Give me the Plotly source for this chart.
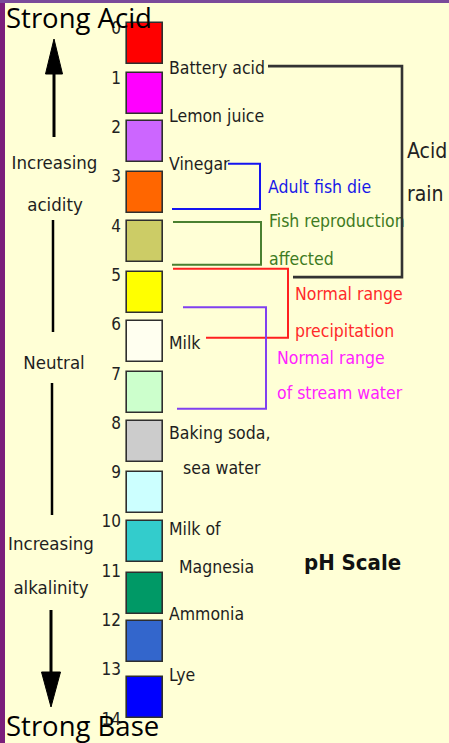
import plotly.graph_objects as go

# ---------------- data ----------------
ph_ticks = list(range(15))
tick_labels = [str(v) for v in ph_ticks]

box_start = [-0.1, 0.92, 1.9, 2.93, 3.92, 4.96, 5.95, 6.98, 7.98, 9.01, 10.0, 11.06, 12.03, 13.17]
box_size = [0.83] * 14
box_colors = ["#FF0000", "#FF00FF", "#CC66FF", "#FF6600", "#CCCC66", "#FFFF00", "#FFFFF0",
              "#CCFFCC", "#CCCCCC", "#CCFFFF", "#33CCCC", "#009966", "#3366CC", "#0000FF"]

substances = ["Battery acid", "Lemon juice", "Vinegar", "Milk", "Baking soda,", "sea water",
              "Milk of", "Magnesia", "Ammonia", "Lye"]
substance_ph = [0.80, 1.77, 2.74, 6.37, 8.20, 8.91, 10.15, 10.92, 11.87, 13.11]

effect_names = ["Acid rain", "Adult fish die", "Fish reproduction affected",
                "Normal range precipitation", "Normal range of stream water"]
effect_ph_from = [0.78, 2.76, 3.94, 4.89, 5.67]
effect_ph_to = [5.06, 3.68, 4.81, 6.29, 7.73]

# ---------------- styling ----------------
BG = "#FFFFD6"
NARROW = "Liberation Sans Narrow, Arial Narrow, DejaVu Sans Condensed, sans-serif"
WIDE = "Open Sans, sans-serif"
A0, S = 27.7, 49.3          # pixel offset / pixels per pH unit (axis calibration)
TEXT_DY = 2.5 / S           # small downward nudge so text sits where the glyphs appear


def ph(px):
    return (px - A0) / S


def tpos(vals):
    return [v + TEXT_DY for v in vals]


fig = go.Figure()

# colour boxes
fig.add_trace(go.Bar(
    x=[145] * len(box_start), y=box_size, base=box_start, width=36,
    marker=dict(color=box_colors, line=dict(color="#2E2E2E", width=1.6)),
    hoverinfo="skip"))

# pH numbers
fig.add_trace(go.Scatter(
    x=[121] * len(ph_ticks), y=tpos(ph_ticks), text=tick_labels, mode="text",
    textposition="middle left", textfont=dict(family=NARROW, size=17, color="#222222"),
    hoverinfo="skip"))

# substance labels
label_x = [169, 169, 169, 169, 169, 183, 169, 179, 169, 169]
fig.add_trace(go.Scatter(
    x=label_x, y=tpos(substance_ph), text=substances, mode="text",
    textposition="middle right", textfont=dict(family=NARROW, size=17.5, color="#1E1E1E"),
    hoverinfo="skip"))

# effect brackets
eff_style = [
    # line colour, text colour, x start, x vertical, x end, label lines, label x, label pH, width, font
    ("#333333", "#222222", 268, 402, 293, ["Acid", "rain"], 407, [2.48, 3.35], 2.6, 21),
    ("#1414F0", "#1818E8", 228, 260, 172, ["Adult fish die"], 268, [3.21], 2.0, 17.5),
    ("#4A8030", "#3E7B22", 173, 261, 172, ["Fish reproduction", "affected"], 269, [3.90, 4.67], 2.0, 17.5),
    ("#FF2020", "#FF2A2A", 173, 288, 206, ["Normal range", "precipitation"], 295, [5.38, 6.13], 2.0, 17.5),
    ("#8040F0", "#FF22FF", 183, 266, 177, ["Normal range", "of stream water"], 277, [6.68, 7.39], 2.0, 17.5),
]
for (lc, tc, xs, xv, xe, lines, lx, lph, lw, fs) in eff_style:
    fig.add_trace(go.Scatter(
        x=[lx] * len(lines), y=tpos(lph), text=lines, mode="text", textposition="middle right",
        textfont=dict(family=NARROW, size=fs, color=tc), hoverinfo="skip"))
for i, (lc, tc, xs, xv, xe, lines, lx, lph, lw, fs) in enumerate(eff_style):
    fig.add_trace(go.Scatter(
        x=[xs, xv, xv, xe], y=[effect_ph_from[i]] * 2 + [effect_ph_to[i]] * 2,
        mode="lines", line=dict(color=lc, width=lw), name=effect_names[i], hoverinfo="skip"))

# left side texts
fig.add_trace(go.Scatter(
    x=[54.5, 55, 54, 51, 51],
    y=tpos([ph(162), ph(204), ph(362), ph(543), ph(587)]),
    text=["Increasing", "acidity", "Neutral", "Increasing", "alkalinity"], mode="text",
    textposition="middle center", textfont=dict(family=NARROW, size=18.5, color="#1E1E1E"),
    hoverinfo="skip"))

# pH Scale title
fig.add_trace(go.Scatter(
    x=[304], y=tpos([ph(562)]), text=["<b>pH Scale</b>"], mode="text", textposition="middle right",
    textfont=dict(family=NARROW, size=22, color="#111111"), hoverinfo="skip"))

# Strong Acid / Strong Base
fig.add_trace(go.Scatter(
    x=[6, 6], y=[ph(21), ph(729)], text=["Strong Acid", "Strong Base"], mode="text",
    textposition="middle right", textfont=dict(family=WIDE, size=27.5, color="#000000"),
    hoverinfo="skip"))

shapes = [
    # up arrow
    dict(type="line", x0=54, x1=54, y0=ph(70), y1=ph(137), line=dict(color="black", width=3)),
    dict(type="path", path=f"M 45.5,{ph(74)} L 54,{ph(39)} L 62.5,{ph(74)} Z",
         fillcolor="black", line=dict(color="black", width=1)),
    # middle bars
    dict(type="line", x0=53, x1=53, y0=ph(220), y1=ph(332), line=dict(color="black", width=2.5)),
    dict(type="line", x0=52, x1=52, y0=ph(383), y1=ph(515), line=dict(color="black", width=2.5)),
    # down arrow
    dict(type="line", x0=51, x1=51, y0=ph(610), y1=ph(676), line=dict(color="black", width=3)),
    dict(type="path", path=f"M 41.5,{ph(672)} L 51,{ph(707)} L 60.5,{ph(672)} Z",
         fillcolor="black", line=dict(color="black", width=1)),
    # borders
    dict(type="rect", xref="paper", yref="paper", x0=0, x1=5 / 449, y0=0, y1=1,
         fillcolor="#7B1E7B", line=dict(width=0)),
    dict(type="rect", xref="paper", yref="paper", x0=0, x1=1, y0=1 - 3 / 743, y1=1,
         fillcolor="#7A4A9A", line=dict(width=0)),
]

fig.update_layout(
    width=449, height=743, margin=dict(l=0, r=0, t=0, b=0),
    paper_bgcolor=BG, plot_bgcolor=BG, showlegend=False,
    xaxis=dict(range=[0, 449], visible=False, fixedrange=True),
    yaxis=dict(range=[ph(743), ph(0)], visible=False, fixedrange=True),
    shapes=shapes, bargap=0,
)

fig.write_html("out.html", post_script="document.body.style.margin='0px';",
               config={"displayModeBar": False})
